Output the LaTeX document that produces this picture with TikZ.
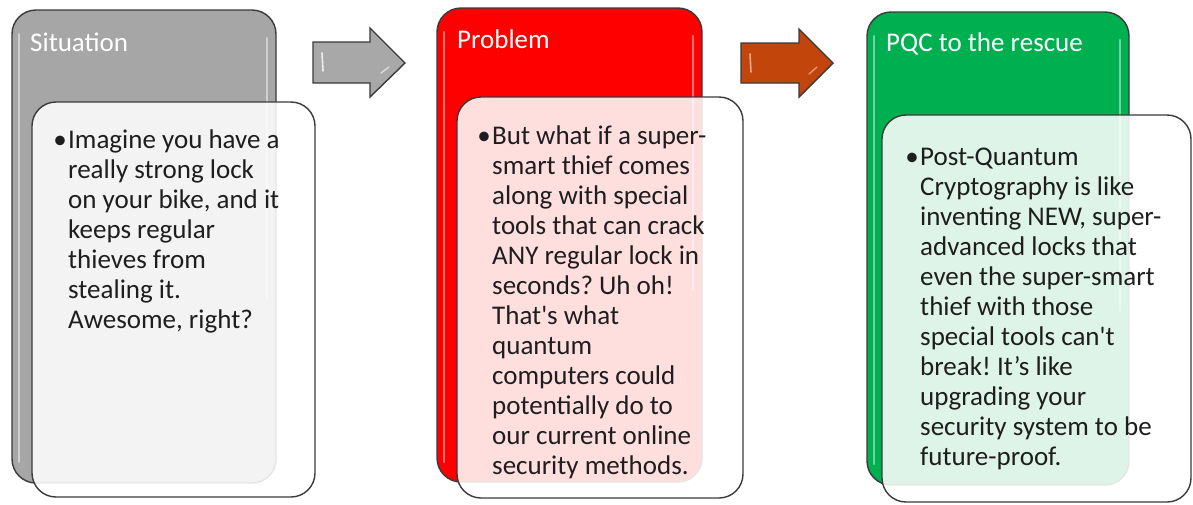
\documentclass[tikz,border=0pt]{standalone}
\usepackage{fontspec}
\setmainfont{Carlito}
\frenchspacing
\usetikzlibrary{calc}
\definecolor{edge}{HTML}{3A3A3A}
\definecolor{ink}{HTML}{1E1E1E}
\definecolor{stepgray}{HTML}{A6A6A6}
\definecolor{stepred}{HTML}{FF0000}
\definecolor{stepgreen}{HTML}{00B050}
\definecolor{arrgray}{HTML}{A8A8A8}
\definecolor{arrorange}{HTML}{C2450C}
\tikzset{
  backcard/.style={draw=edge, line width=1.4pt, rounded corners=24pt},
  frontcard/.style={draw=edge, line width=1.4pt, rounded corners=24pt,
    fill=white, fill opacity=0.87},
  gloss/.style={draw=white, line width=2.2pt, opacity=0.45, line cap=round},
  title/.style={anchor=base west, inner sep=0pt, text=white,
    font=\fontsize{27}{30}\selectfont},
  body/.style={anchor=base west, inner sep=0pt, text=ink,
    font=\fontsize{27}{30}\selectfont},
  blockarrow/.style={draw=edge, line width=1.4pt, line join=miter},
}
% bulleted paragraph: rows 30pt apart, node baseline on the first row
\newenvironment{bulletlines}{\begin{tabular}[t]{@{}l@{}}}{\end{tabular}}
\newcommand{\bul}{\llap{\textbullet\hspace{1.5pt}}}
\begin{document}
\begin{tikzpicture}[x=1pt,y=-1pt]
\useasboundingbox (0,0) rectangle (1193,504);

% ---- step 1: Situation ----
\draw[backcard, fill=stepgray] (12,10) rectangle (276,483);
\draw[gloss] (19,34) -- (19,462);
\draw[gloss] (267,38) -- (267,300);
\node[title] (t1) at (30,51) {Situation};
\draw[frontcard] (32,102) rectangle (315,497);
\node[body] (b1) at (68,148) {\begin{bulletlines}\bul Imagine you have a\\
really strong lock\\
on your bike, and it\\
keeps regular\\
thieves from\\
stealing it.\\
Awesome, right?\end{bulletlines}};

% ---- step 2: Problem ----
\draw[backcard, fill=stepred] (437,8) rectangle (702,482);
\draw[gloss] (444,32) -- (444,462);
\draw[gloss] (693,36) -- (693,290);
\node[title] (t2) at (457,48) {Problem};
\draw[frontcard] (457,97) rectangle (743,498);
\node[body] (b2) at (492,144) {\begin{bulletlines}\bul But what if a super-\\
smart thief comes\\
along with special\\
tools that can crack\\
ANY regular lock in\\
seconds? Uh oh!\\
That\textquotesingle s what\\
quantum\\
computers could\\
potentially do to\\
our current online\\
security methods.\end{bulletlines}};

% ---- step 3: PQC to the rescue ----
\draw[backcard, fill=stepgreen] (867,12) rectangle (1129,485);
\draw[gloss] (874,36) -- (874,464);
\draw[gloss] (1120,40) -- (1120,310);
\node[title] (t3) at (886,51) {PQC to the rescue};
\draw[frontcard] (882,115) rectangle (1191,502);
\node[body] (b3) at (920,165) {\begin{bulletlines}\bul Post-Quantum\\
Cryptography is like\\
inventing NEW, super-\\
advanced locks that\\
even the super-smart\\
thief with those\\
special tools can\textquotesingle t\\
break! It’s like\\
upgrading your\\
security system to be\\
future-proof.\end{bulletlines}};

% ---- block arrows between the steps ----
\draw[blockarrow, fill=arrgray]
  (313,42) -- (370,42) -- (370,28) -- (405,63) -- (370,97) -- (370,83) -- (313,83) -- cycle;
\draw[white, line width=1.6pt, opacity=0.8, line cap=round] (322,53) -- (323,71);
\draw[white, line width=1.4pt, opacity=0.6, line cap=round] (381,73) -- (389,67);

\draw[blockarrow, fill=arrorange]
  (741,43) -- (799,43) -- (799,29) -- (833,63) -- (799,97) -- (799,83) -- (741,83) -- cycle;
\draw[white, line width=1.6pt, opacity=0.55, line cap=round] (750,54) -- (751,72);
\draw[white, line width=1.4pt, opacity=0.45, line cap=round] (809,74) -- (817,67);
\end{tikzpicture}
\end{document}
